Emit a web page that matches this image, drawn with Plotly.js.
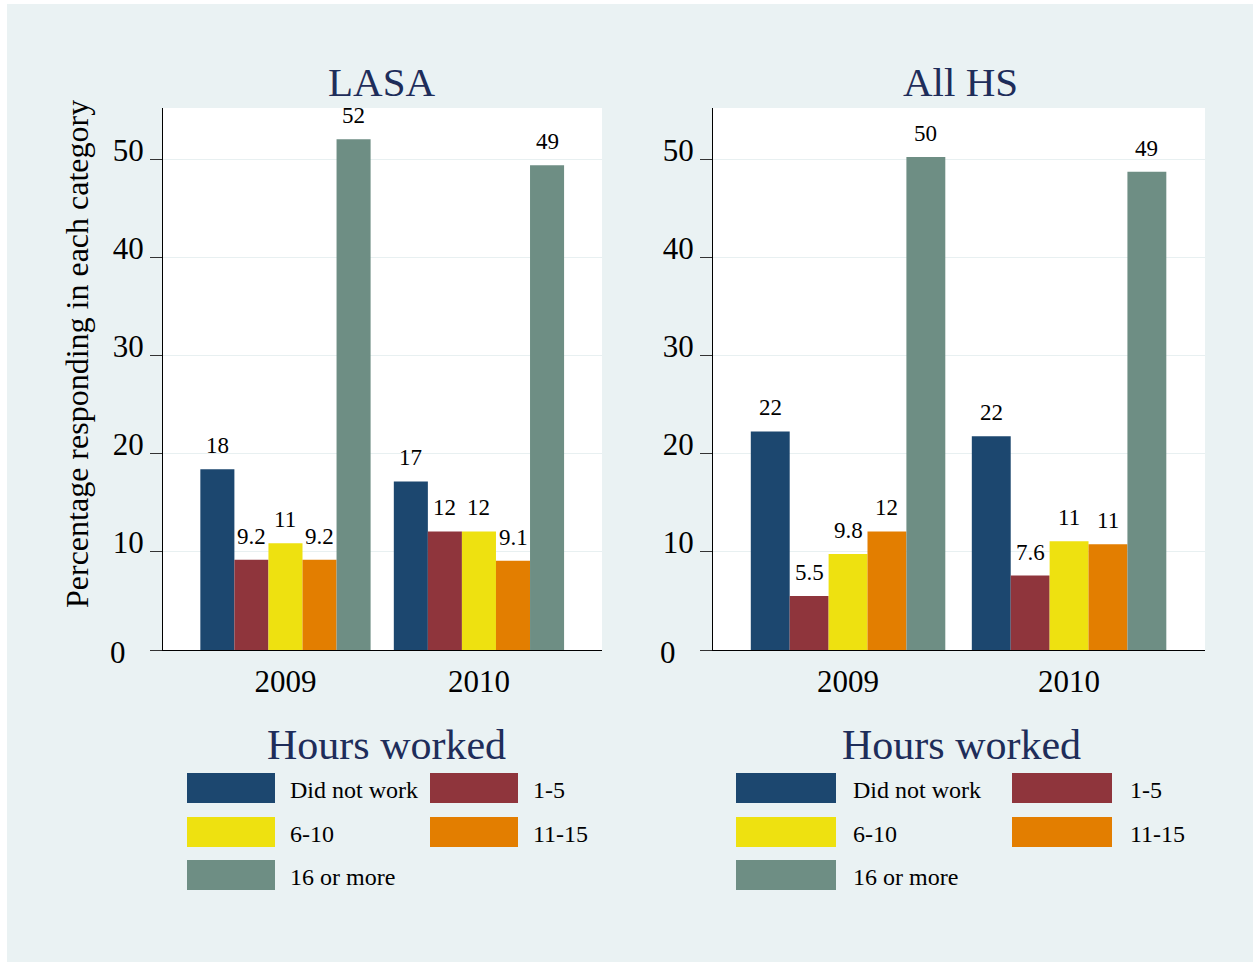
<!DOCTYPE html>
<html>
<head>
<meta charset="utf-8">
<script src="https://cdn.plot.ly/plotly-3.0.1.min.js"></script>
<style>
  html, body { margin: 0; padding: 0; background: #ffffff; }
  #chart { position: absolute; left: 7px; top: 4px; width: 1246px; height: 958px; }
</style>
</head>
<body>
<div id="chart"></div>
<script>
// ---- data ----
const years = ['2009', '2010'];
const seriesNames = ['Did not work', '1-5', '6-10', '11-15', '16 or more'];
const seriesColors = ['#1C476F', '#8F353C', '#EEE110', '#E37E00', '#6E8E84'];

const lasaDidNotWork = [18.45, 17.2];
const lasa1to5 = [9.2, 12.1];
const lasa6to10 = [10.9, 12.1];
const lasa11to15 = [9.2, 9.1];
const lasa16plus = [52.1, 49.45];

const hsDidNotWork = [22.3, 21.8];
const hs1to5 = [5.5, 7.6];
const hs6to10 = [9.8, 11.1];
const hs11to15 = [12.1, 10.8];
const hs16plus = [50.3, 48.8];

const yTickVals = [0, 10, 20, 30, 40, 50];
const panelTitles = ['LASA', 'All HS'];
const legendTitle = 'Hours worked';
const yTitle = 'Percentage responding in each category';

// ---- layout helpers ----
const W = 1246, H = 958;
const px = x => x / W;
const py = y => 1 - y / H;
const serif = 'Liberation Serif, Times New Roman, serif';
const titleColor = '#1E2D5A';
const barGap = 0.12;

const lasaSeries = [lasaDidNotWork, lasa1to5, lasa6to10, lasa11to15, lasa16plus];
const hsSeries = [hsDidNotWork, hs1to5, hs6to10, hs11to15, hs16plus];

const traces = [];
const annotations = [];
const shapes = [];

function addPanel(series, xa, ya) {
  const n = series.length;
  const w = (1 - barGap) / n;
  series.forEach((vals, i) => {
    traces.push({
      type: 'bar',
      x: years,
      y: vals,
      name: seriesNames[i],
      xaxis: xa,
      yaxis: ya,
      marker: { color: seriesColors[i], line: { width: 0 } },
      showlegend: false,
      hoverinfo: 'x+y+name'
    });
    // value labels above each bar, placed through the axes' scales
    vals.forEach((v, c) => {
      annotations.push({
        xref: xa, yref: ya,
        x: c + (i - (n - 1) / 2) * w,
        y: v,
        xanchor: 'center', yanchor: 'bottom', yshift: 9,
        showarrow: false,
        text: String(Number(v.toPrecision(2))),
        font: { family: serif, size: 23, color: '#000000' }
      });
    });
  });
}
addPanel(lasaSeries, 'x', 'y');
addPanel(hsSeries, 'x2', 'y2');

const yDomain = [py(646), py(104)];
const yCommon = {
  range: [0, 55.3],
  domain: yDomain,
  tickvals: yTickVals,
  ticktext: yTickVals.map(v => (v === 0 ? '' : String(v))),
  ticks: 'outside',
  ticklen: 12,
  tickcolor: '#333333',
  tickwidth: 1,
  showline: true,
  linecolor: '#000000',
  linewidth: 1,
  showgrid: true,
  gridcolor: '#E8F0F1',
  gridwidth: 1,
  zeroline: false,
  tickfont: { family: serif, size: 31, color: '#000000' },
  ticklabelshift: -10,
  ticklabelstandoff: 0
};
const xCommon = {
  type: 'category',
  ticks: '',
  showline: true,
  linecolor: '#000000',
  linewidth: 1,
  showgrid: false,
  zeroline: false,
  tickfont: { family: serif, size: 31, color: '#000000' },
  ticklabelstandoff: 4
};
const xRanges = { x: [-0.633, 1.636], x2: [-0.611, 1.615] };

// zero tick label (Stata draws it centred on the tick, not raised)
[['x', 'y'], ['x2', 'y2']].forEach(([xa, ya]) => {
  annotations.push({
    xref: xa, yref: ya, x: xRanges[xa][0], y: yTickVals[0],
    xanchor: 'left', yanchor: 'middle', xshift: -55, yshift: -2,
    showarrow: false, text: String(yTickVals[0]),
    font: { family: serif, size: 31, color: '#000000' }
  });
});

// panel titles
[[374, panelTitles[0]], [953, panelTitles[1]]].forEach(([cx, t]) => {
  annotations.push({
    xref: 'paper', yref: 'paper', x: px(cx), y: py(78),
    xanchor: 'center', yanchor: 'middle', showarrow: false,
    text: t, font: { family: serif, size: 41, color: titleColor }
  });
});

// y axis title
annotations.push({
  xref: 'paper', yref: 'paper', x: px(70), y: py(350),
  xanchor: 'center', yanchor: 'middle', showarrow: false, textangle: -90,
  text: yTitle, font: { family: serif, size: 32, color: '#000000' }
});

// legends (one per panel)
const legends = [
  { titleX: 379, col: [[180, 268, 281], [423, 511, 524]] },
  { titleX: 954, col: [[729, 829, 844], [1005, 1105, 1121]] }
];
const rowTops = [769, 813, 856];
const rowH = 30;
legends.forEach(lg => {
  annotations.push({
    xref: 'paper', yref: 'paper', x: px(lg.titleX), y: py(741),
    xanchor: 'center', yanchor: 'middle', showarrow: false,
    text: legendTitle, font: { family: serif, size: 42, color: titleColor }
  });
  seriesNames.forEach((name, i) => {
    const r = Math.floor(i / 2), c = i % 2;
    const [x0, x1, tx] = lg.col[c];
    const top = rowTops[r];
    shapes.push({
      type: 'rect', xref: 'paper', yref: 'paper',
      x0: px(x0), x1: px(x1), y0: py(top + rowH), y1: py(top),
      fillcolor: seriesColors[i], line: { width: 0 }, layer: 'above'
    });
    annotations.push({
      xref: 'paper', yref: 'paper', x: px(tx), y: py(top + rowH / 2 + 2),
      xanchor: 'left', yanchor: 'middle', showarrow: false,
      text: name, font: { family: serif, size: 24, color: '#000000' }
    });
  });
});

const layout = {
  width: W, height: H,
  margin: { l: 0, r: 0, t: 0, b: 0, pad: 0 },
  paper_bgcolor: '#EAF2F3',
  plot_bgcolor: '#FFFFFF',
  barmode: 'group',
  bargap: barGap,
  bargroupgap: 0,
  showlegend: false,
  font: { family: serif, color: '#000000' },
  xaxis: Object.assign({}, xCommon, { domain: [px(156), px(595)], range: xRanges.x, anchor: 'y' }),
  yaxis: Object.assign({}, yCommon, { anchor: 'x' }),
  xaxis2: Object.assign({}, xCommon, { domain: [px(706), px(1198)], range: xRanges.x2, anchor: 'y2' }),
  yaxis2: Object.assign({}, yCommon, { anchor: 'x2' }),
  annotations: annotations,
  shapes: shapes
};

Plotly.newPlot('chart', traces, layout, { displayModeBar: false, staticPlot: true });
</script>
</body>
</html>
